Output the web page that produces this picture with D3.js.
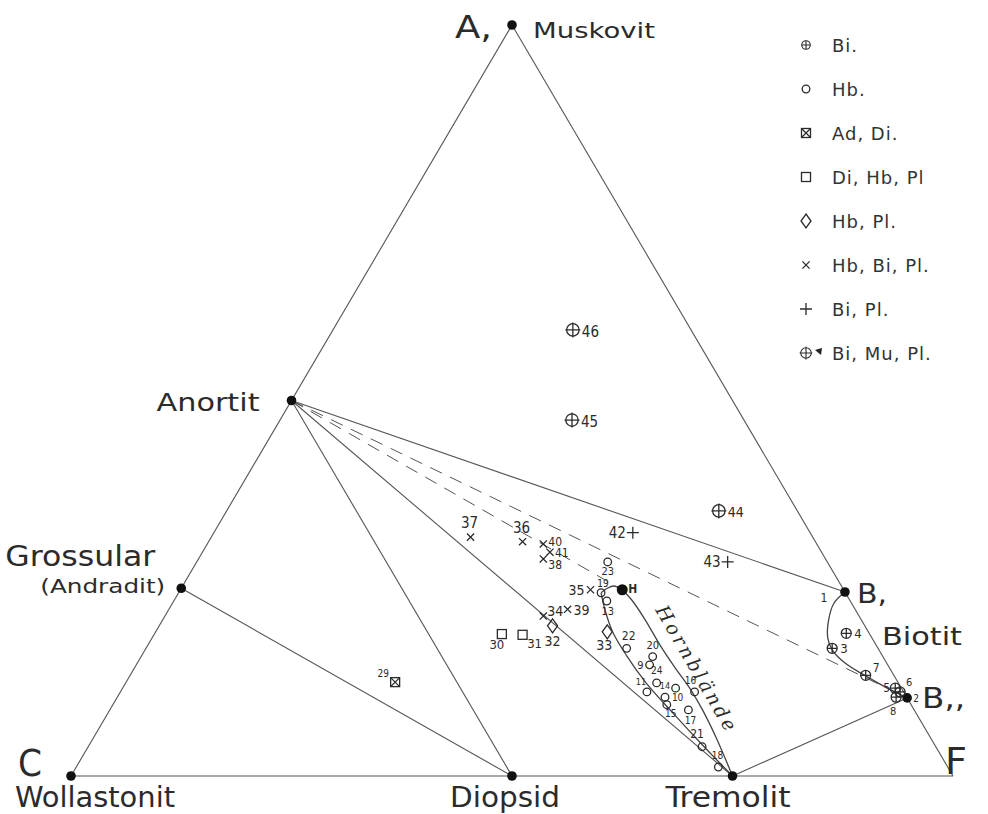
<!DOCTYPE html>
<html><head><meta charset="utf-8">
<script src="https://cdn.jsdelivr.net/npm/d3@7"></script>
<style>body{margin:0;background:#fff}svg{display:block}</style>
</head><body><svg id="chart" width="988" height="814"></svg>
<script>
// ACF diagram: phase compositions as [A, C, F] in percent
const phaseNames = ["Muskovit","Wollastonit","F","Anortit","Grossular","Diopsid","Tremolit","B,","B,,","H"];
const phaseComp = [[100,0,0],[0,100,0],[0,0,100],[50,50,0],[25,75,0],[0,50,50],[0,25,75],[24.5,0,75.5],[10.4,0,89.6],[24.8,25.1,50.1]];
const dottedPhases = ["Muskovit","Wollastonit","Anortit","Grossular","Diopsid","Tremolit","B,","B,,","H"];

// Rock samples: number, mineral assemblage, A / C / F
const sampleIds = [1,2,3,4,5,6,7,8,9,10,11,13,14,15,16,17,18,19,20,21,22,23,24,29,30,31,32,33,34,35,36,37,38,39,40,41,42,43,44,45,46];
const sampleType = ["none","none","Bi","Bi","Bi","Bi","Bi","Bi","Hb","Hb","Hb","Hb","Hb","Hb","Hb","Hb","Hb","Hb","Hb","Hb","Hb","Hb","Hb","AdDi","DiHbPl","DiHbPl","HbPl","HbPl","HbBiPl","HbBiPl","HbBiPl","HbBiPl","HbBiPl","HbBiPl","HbBiPl","HbBiPl","BiPl","BiPl","BiMuPl","BiMuPl","BiMuPl"];
const sampleA = [24.5,10.4,17.0,19.0,11.7,11.2,13.4,10.5,14.8,11.7,11.2,23.3,10.5,9.5,11.2,8.8,1.2,24.4,15.9,3.9,17.0,28.5,12.4,12.5,18.9,18.8,20.0,19.2,21.3,24.8,31.2,31.8,28.9,22.2,30.9,29.8,32.4,28.5,35.3,47.4,59.4];
const sampleC = [0,0,5.2,2.6,0.7,0.4,3.2,1.2,27.0,25.6,29.1,27.6,27.4,27.7,23.7,25.6,26.0,27.7,26.1,26.5,28.5,24.9,27.4,57.0,41.7,39.4,35.4,29.6,35.8,28.7,33.2,38.8,32.0,32.6,31.0,30.8,20.1,11.3,8.9,19.5,13.4];
const sampleF = [75.5,89.6,77.8,78.4,87.6,88.4,83.4,88.3,58.2,62.7,59.7,49.1,62.1,62.8,65.1,65.6,72.8,47.9,58.0,69.6,54.5,46.6,60.2,30.5,39.4,41.8,44.6,51.2,42.9,46.5,35.6,29.4,39.1,45.2,38.1,39.4,47.5,60.2,55.8,33.1,27.2];

// Legend entries
const legendTypes = ["Bi","Hb","AdDi","DiHbPl","HbPl","HbBiPl","BiPl","BiMuPl"];
const legendLabels = ["Bi.","Hb.","Ad, Di.","Di, Hb, Pl","Hb, Pl.","Hb, Bi, Pl.","Bi,  Pl.","Bi, Mu, Pl."];

// Tie lines between phases
const solidTies = [["Muskovit","Wollastonit"],["Wollastonit","F"],["F","Muskovit"],["Grossular","Diopsid"],["Anortit","Diopsid"],["Anortit","Tremolit"],["Anortit","B,"],["Tremolit","B,,"]];
const dashedTies = [["Anortit","H"],["Anortit","B,,"]];

// Field boundaries (compositions along each curve)
const biotiteBoundary = [[24.5,0,75.5],[23.0,2.0,75.0],[20.8,3.7,75.5],[18.4,5.0,76.6],[16.8,5.3,77.9],[15.0,4.7,80.3],[13.4,3.3,83.3],[11.9,1.8,86.3],[10.4,0,89.6]];
const hbTop = [[24.4,27.7,47.9],[25.0,26.7,48.3],[25.3,25.8,48.9],[24.8,25.1,50.1]];
const hbLeft = [[24.4,27.7,47.9],[22.1,28.4,49.5],[19.2,29.0,51.8],[16.1,29.0,54.9],[12.4,28.6,59.0],[8.5,27.6,63.9],[4.0,26.3,69.7],[0,25,75]];
const hbRight = [[24.8,25.1,50.1],[23.4,24.7,51.9],[20.8,24.5,54.7],[17.4,24.5,58.1],[14.4,24.3,61.3],[11.7,24.0,64.3],[8.8,24.0,67.2],[5.1,24.3,70.6],[0,25,75]];

const svg = d3.select("#chart");
const ink = "#2b2b2b";
const lineInk = "#555";

// Cartesian scales for the ternary plane
const x = d3.scaleLinear().domain([0,1]).range([71,953]);
const y = d3.scaleLinear().domain([0,1]).range([776,25]);
function project(c){ const s=c[0]+c[1]+c[2]; const A=c[0]/s, F=c[2]/s; return [x(F + A/2), y(A)]; }
const phasePos = {};
phaseNames.forEach((n,i)=>phasePos[n]=project(phaseComp[i]));

const gLines = svg.append("g").attr("stroke",lineInk).attr("fill","none");
gLines.selectAll("line.solid").data(solidTies).join("line")
  .attr("x1",d=>phasePos[d[0]][0]).attr("y1",d=>phasePos[d[0]][1])
  .attr("x2",d=>phasePos[d[1]][0]).attr("y2",d=>phasePos[d[1]][1])
  .attr("stroke-width",1.1);
gLines.selectAll("line.dash").data(dashedTies).join("line")
  .attr("x1",d=>phasePos[d[0]][0]).attr("y1",d=>phasePos[d[0]][1])
  .attr("x2",d=>phasePos[d[1]][0]).attr("y2",d=>phasePos[d[1]][1])
  .attr("stroke-width",1).attr("stroke-dasharray","13,9");

const curve = d3.line().x(d=>project(d)[0]).y(d=>project(d)[1]).curve(d3.curveCatmullRom.alpha(0.5));
[biotiteBoundary,hbTop,hbLeft,hbRight].forEach(pts=>{
  gLines.append("path").attr("d",curve(pts)).attr("stroke","#444").attr("stroke-width",1.3);
});

// Phase dots
svg.append("g").selectAll("circle").data(dottedPhases).join("circle")
  .attr("cx",d=>phasePos[d][0]).attr("cy",d=>phasePos[d][1])
  .attr("r",d=>d==="H"?5.5:4.8).attr("fill","#111");

// Sample symbols
function drawSymbol(g, type, cx, cy, scale){
  const k = scale||1;
  const s = g.append("g").attr("transform",`translate(${cx},${cy}) scale(${k})`)
    .attr("fill","none").attr("stroke",ink).attr("stroke-width",1.3);
  if(type==="Hb"){ s.append("circle").attr("r",3.8); }
  else if(type==="Bi"){ s.append("circle").attr("r",5); s.append("path").attr("d","M-5,0H5M0,-5V5"); }
  else if(type==="BiMuPl"){ s.append("circle").attr("r",6.2); s.append("path").attr("d","M-7.5,0H7.5M0,-7.5V7.5"); }
  else if(type==="AdDi"){ s.append("rect").attr("x",-4.5).attr("y",-4.5).attr("width",9).attr("height",9); s.append("path").attr("d","M-4.5,-4.5L4.5,4.5M4.5,-4.5L-4.5,4.5"); }
  else if(type==="DiHbPl"){ s.append("rect").attr("x",-4.5).attr("y",-4.5).attr("width",9).attr("height",9); }
  else if(type==="HbPl"){ s.append("path").attr("d","M0,-7L5,0L0,7L-5,0Z"); }
  else if(type==="HbBiPl"){ s.append("path").attr("d","M-3.6,-3.6L3.6,3.6M3.6,-3.6L-3.6,3.6"); }
  else if(type==="BiPl"){ s.append("path").attr("d","M-6,0H6M0,-6V6"); }
}

// Label placement per sample number: [dx, dy, anchor, size]
const labelPlace = {
  1:[-21,10,"middle",12],2:[6,4,"start",10],3:[8,5,"start",13],4:[8,5,"start",13],5:[-5,4,"end",12],6:[6,-6,"start",11],7:[7,-3,"start",12],8:[-3,18,"middle",11],
  9:[-6,4,"end",11],10:[2,13,"middle",10],11:[-6,-7,"middle",9],13:[1,14,"middle",11],14:[0,-8,"middle",9],15:[4,12,"middle",10],16:[-4,-8,"middle",10],17:[2,14,"middle",10],18:[-1,-8,"middle",10],
  19:[2,-6,"middle",10],20:[0,-8,"middle",11],21:[-5,-9,"middle",12],22:[2,-8,"middle",12],23:[0,13,"middle",11],24:[0,-9,"middle",10],
  29:[-12,-5,"middle",10],30:[-5,15,"middle",13],31:[12,13,"middle",13],32:[0,20,"middle",14],33:[-3,18,"middle",14],
  34:[4,0,"start",14],35:[-6,5,"end",14],36:[-1,-9,"middle",15],37:[-1,-9,"middle",15],38:[5,10,"start",12],39:[6,6,"start",14],40:[5,2,"start",12],41:[5,5,"start",12],
  42:[-7,5,"end",15],43:[-7,5,"end",15],44:[9,6,"start",14],45:[9,7,"start",15],46:[9,7,"start",15]
};

const gPts = svg.append("g");
sampleIds.forEach((id,i)=>{
  const p = project([sampleA[i],sampleC[i],sampleF[i]]);
  if(sampleType[i]!=="none") drawSymbol(gPts, sampleType[i], p[0], p[1], 1);
  const lp = labelPlace[id];
  gPts.append("text").attr("x",p[0]+lp[0]).attr("y",p[1]+lp[1])
    .attr("text-anchor",lp[2]).attr("font-size",lp[3])
    .attr("font-family","'DejaVu Sans Condensed','DejaVu Sans',sans-serif")
    .attr("fill",ink).text(id);
});

// Phase names: [phase, text, dx, dy, font size, family, width]
const font = "'DejaVu Sans','Noto Sans',sans-serif";
const cond = "'DejaVu Sans Condensed','DejaVu Sans',sans-serif";
const phaseText = [
  ["Muskovit","A,",-57,13,32,font,37],
  ["Muskovit","Muskovit",21,13,22,font,122],
  ["Anortit","Anortit",-135,10,24,font,103],
  ["Grossular","Grossular",-176,-22,28,font,150],
  ["Grossular","(Andradit)",-141,5,20,font,125],
  ["Wollastonit","C",-53,0,38,cond,24],
  ["Wollastonit","Wollastonit",-56,31,28,cond,160],
  ["Diopsid","Diopsid",-62,31,28,cond,110],
  ["Tremolit","Tremolit",-67,31,28,cond,125],
  ["F","F",-8,-2,38,cond,22],
  ["B,","B,",12,11,26,font,30],
  ["B,","Biotit",37,53,24,font,80],
  ["B,,","B,,",15,10,28,font,43],
  ["H","H",6,3,12,font,9]
];
svg.append("g").selectAll("text").data(phaseText).join("text")
  .attr("x",d=>phasePos[d[0]][0]+d[2]).attr("y",d=>phasePos[d[0]][1]+d[3])
  .attr("font-size",d=>d[4]).attr("font-family",d=>d[5])
  .attr("textLength",d=>d[6]).attr("lengthAdjust","spacingAndGlyphs")
  .attr("font-weight",d=>d[1]==="H"?"bold":"normal")
  .attr("fill",ink).text(d=>d[1]);

// Field name along the hornblende boundary
const hbMid = project([13.5,24.3,62.2]);
svg.append("text").attr("transform",`translate(${hbMid[0]+12},${hbMid[1]-2}) rotate(60)`)
  .attr("text-anchor","middle").attr("font-size",19).attr("font-style","italic")
  .attr("font-family","'DejaVu Serif',serif").attr("letter-spacing",3)
  .attr("fill",ink).text("Hornblände");

// Legend
const legY = d3.scalePoint().domain(legendTypes).range([45,353]);
const gLeg = svg.append("g");
legendTypes.forEach((t,i)=>{
  drawSymbol(gLeg, t, 806, legY(t), t==="Bi"?0.85:(t==="BiMuPl"?0.85:1));
  gLeg.append("text").attr("x",832).attr("y",legY(t)+7).attr("font-size",18)
    .attr("font-family",font).attr("letter-spacing",1).attr("fill","#333").text(legendLabels[i]);
});
gLeg.append("path").attr("d",`M815,${legY("BiMuPl")-3}L822,${legY("BiMuPl")-5}L821,${legY("BiMuPl")+2}Z`).attr("fill","#222");
</script>
</body></html>
